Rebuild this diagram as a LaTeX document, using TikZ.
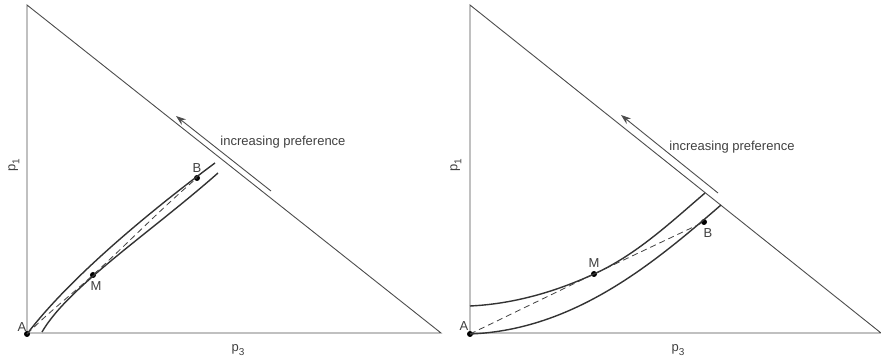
\documentclass[tikz,border=0pt]{standalone}
\usepackage{fontspec}
\setmainfont{Liberation Sans}
\usetikzlibrary{arrows.meta,positioning}

\newcommand{\subidx}[1]{\raisebox{-4pt}{\fontsize{10}{12}\selectfont #1}}

\begin{document}
\begin{tikzpicture}[x=1pt,y=-1pt,
  edge/.style={draw=black!70,line width=0.9pt},
  band/.style={draw=black!80,line width=1.4pt},
  guide/.style={draw=black!75,line width=0.8pt,dash pattern=on 6pt off 4pt},
  dot/.style={circle,fill=black,inner sep=0pt,minimum size=6pt},
  lbl/.style={text=black!75,font=\fontsize{13}{15}\selectfont,inner sep=0pt}]
  \useasboundingbox (0,0) rectangle (881,363);

  \coordinate (T1) at (27,5);
  \coordinate (O1) at (27,333);
  \coordinate (R1) at (441,333);
  \draw[edge] (T1) -- (O1) -- (R1) -- cycle;
  \node[dot] (A1) at (27,334) {};
  \node[dot] (M1) at (93,275) {};
  \node[dot] (B1) at (197,178) {};
  \coordinate (U1) at (215,163);
  \coordinate (S1) at (42,332);
  \coordinate (E1) at (218,173);
  \draw[band] (A1.center) .. controls (68,280) and (145,215) .. (U1);
  \draw[band] (S1) .. controls (68,287) and (150,233) .. (E1);
  \draw[guide] (A1.center) .. controls +(22,-22) and +(-22,20) .. (M1.center)
    .. controls +(35,-32) and +(-32,27) .. (B1.center);
  \coordinate (P1) at (271,191);
  \coordinate (Q1) at (176,116);
  \draw[edge,-{Stealth[length=10pt,width=7pt]}] (P1) -- (Q1);
  \node[lbl] (inc1) at (283,142) {increasing preference};
  \node[lbl] (labA1) at (22,327) {A};
  \node[lbl] (labM1) at (96,286) {M};
  \node[lbl] (labB1) at (197,168) {B};
  \node[lbl,rotate=90] (p11) at (14,165) {p\subidx{1}};
  \node[lbl] (p31) at (238,350) {p\subidx{3}};

  \coordinate (T2) at (470,5);
  \coordinate (O2) at (470,333);
  \coordinate (R2) at (881,333);
  \draw[edge] (T2) -- (O2) -- (R2) -- cycle;
  \node[dot] (A2) at (470,334) {};
  \node[dot] (M2) at (594,274) {};
  \node[dot] (B2) at (704,222) {};
  \coordinate (S2) at (470,306);
  \coordinate (U2) at (705,193);
  \coordinate (E2) at (721,205);
  \draw[band] (S2) .. controls (513,304) and (555,292) .. (M2.center)
    .. controls (636,255) and (670,223) .. (U2);
  \draw[band] (A2.center) .. controls (575,330) and (655,262) .. (E2);
  \draw[guide] (A2.center) -- (M2.center) -- (B2.center);
  \coordinate (P2) at (718,193);
  \coordinate (Q2) at (621,115);
  \draw[edge,-{Stealth[length=10pt,width=7pt]}] (P2) -- (Q2);
  \node[lbl] (inc2) at (732,147) {increasing preference};
  \node[lbl] (labA2) at (464,326) {A};
  \node[lbl] (labM2) at (594,263) {M};
  \node[lbl] (labB2) at (708,233) {B};
  \node[lbl,rotate=90] (p12) at (456,165) {p\subidx{1}};
  \node[lbl] (p32) at (678,350) {p\subidx{3}};
\end{tikzpicture}
\end{document}
